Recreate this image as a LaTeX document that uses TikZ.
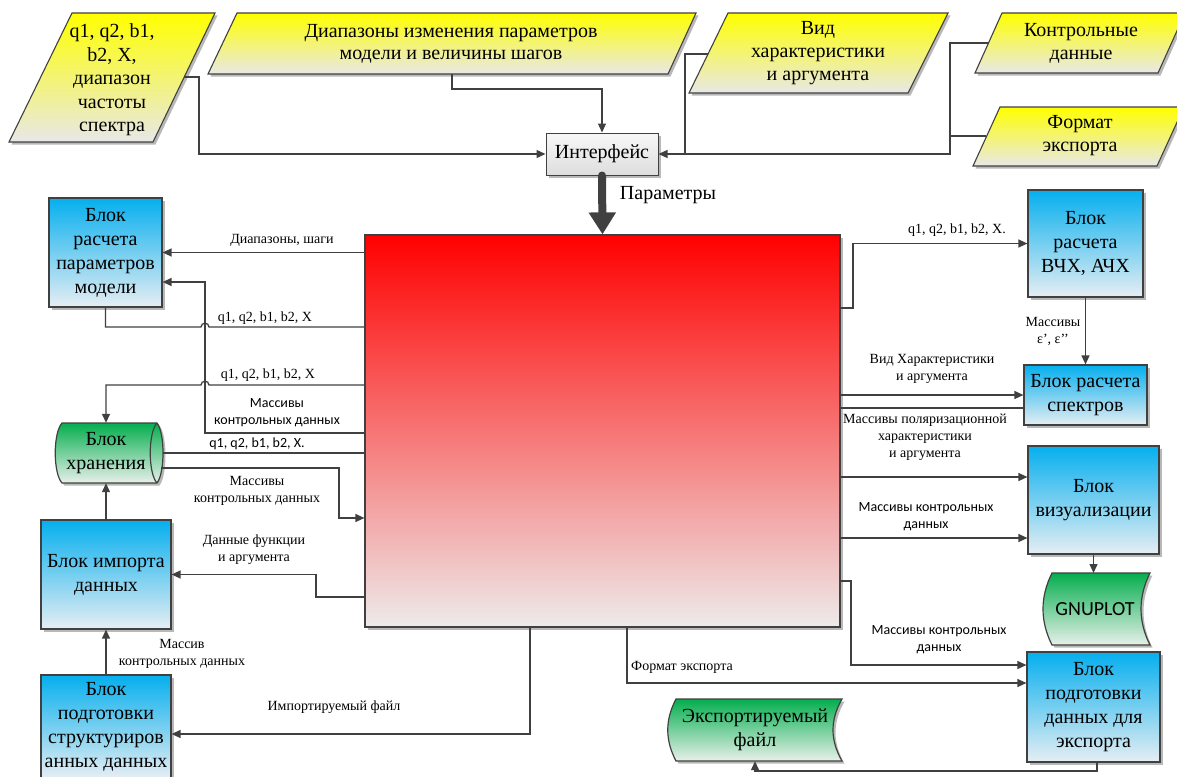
\documentclass[tikz,border=0pt]{standalone}
\usepackage{fontspec}
\setmainfont{Liberation Serif}
\newfontfamily\sansf{Carlito}
\usetikzlibrary{arrows.meta,shadows,calc}
\definecolor{ln}{HTML}{404040}
\definecolor{yel}{HTML}{FFFF00}
\definecolor{yelb}{HTML}{E8E8E8}
\definecolor{blt}{HTML}{05AFEE}
\definecolor{blb}{HTML}{E6EEF3}
\definecolor{grt}{HTML}{05AE4E}
\definecolor{grb}{HTML}{E8F0EA}
\definecolor{rdt}{HTML}{FF0000}
\definecolor{rdb}{HTML}{EEEAEA}
\begin{document}
\begin{tikzpicture}[x=1pt,y=-1pt,
  shad/.style={drop shadow={shadow xshift=2.5pt, shadow yshift=-2.5pt, fill=black!28, opacity=1}},
  conn/.style={draw=ln, line width=1.3pt},
  arr/.style={conn, -{Triangle[length=9pt,width=8pt]}},
  big/.style={font=\fontsize{20}{24}\selectfont, align=center, inner sep=0pt},
  lbl/.style={font=\fontsize{14}{17}\selectfont, align=center, inner sep=0pt},
  slbl/.style={font=\sansf\fontsize{14}{17}\selectfont, align=center, inner sep=0pt},
  blk/.style={draw=ln, line width=1.2pt, top color=blt, bottom color=blb, big, shad},
  para/.style={draw=ln, line width=1.1pt, top color=yel, bottom color=yelb, shad},
  grn/.style={draw=ln, line width=1.2pt, top color=grt, bottom color=grb, shad}
]
\useasboundingbox (0,0) rectangle (1177,776);

% ---- top input parallelograms
\path[para] (72,13) -- (215,13) -- (153,142) -- (9,142) -- cycle;
\node[big, font=\fontsize{20}{23.5}\selectfont] (p1) at (112,80) {q1, q2, b1,\\b2, X,\\диапазон\\частоты\\спектра};
\path[para] (237,13) -- (696,13) -- (668,74) -- (208,74) -- cycle;
\node[big, font=\fontsize{20}{22}\selectfont] (p2) at (451,44) {Диапазоны изменения параметров\\модели и величины шагов};
\path[para] (728,13) -- (948,13) -- (908,93) -- (689,93) -- cycle;
\node[big, font=\fontsize{20}{23}\selectfont] (p3) at (818,53) {Вид\\характеристики\\и аргумента};
\path[para] (1002,13) -- (1185,13) -- (1158,73) -- (975,73) -- cycle;
\node[big, font=\fontsize{20}{23}\selectfont] (p4) at (1081,43) {Контрольные\\данные};
\path[para] (1000,107) -- (1184,107) -- (1157,166) -- (973,166) -- cycle;
\node[big, font=\fontsize{20}{23}\selectfont] (p5) at (1080,136) {Формат\\экспорта};

\coordinate (p1r) at (184,77);
\coordinate (p2b) at (452,74);
\coordinate (p3l) at (708,54);
\coordinate (p4l) at (988,43);
\coordinate (p5l) at (986,136);

% ---- interface and main block
\node[draw=ln, line width=1pt, top color=gray!6, bottom color=gray!26, minimum width=112pt, minimum height=42pt, big, shad] (iface) at (602,154) {Интерфейс};
\node[draw=ln, line width=1.2pt, top color=rdt, bottom color=rdb, minimum width=475pt, minimum height=392pt, inner sep=0pt, shad] (main) at (602.5,431) {};

% ---- blue blocks
\node[blk, minimum width=113pt, minimum height=109pt] (bpar) at (105.5,252.5) {Блок\\расчета\\параметров\\модели};
\node[blk, minimum width=115pt, minimum height=107pt] (bvch) at (1085.5,243.5) {Блок\\расчета\\ВЧХ, АЧХ};
\node[blk, minimum width=123pt, minimum height=60pt] (bspec) at (1085.5,395) {Блок расчета\\спектров};
\node[blk, minimum width=131pt, minimum height=108pt] (bvis) at (1093.5,500) {Блок\\визуализации};
\node[blk, minimum width=133pt, minimum height=110pt] (bexp) at (1093.5,707) {Блок\\подготовки\\данных для\\экспорта};
\node[blk, minimum width=130pt, minimum height=109pt] (bimp) at (106,574.5) {Блок импорта\\данных};
\node[blk, minimum width=130pt, minimum height=103pt] (bprep) at (106,726.5) {Блок\\подготовки\\структуриров\\анных данных};

% ---- green storage shapes
\path[grn] (62,423) -- (157,423) .. controls (165,433) and (165,473) .. (157,483) -- (62,483) .. controls (53,473) and (53,433) .. (62,423) -- cycle;
\draw[ln, line width=1.2pt] (157,423) .. controls (148,433) and (148,473) .. (157,483);
\node[big, minimum width=114pt, minimum height=60pt] (stor) at (106,453) {Блок\\хранения};
\coordinate (storr) at (161,468);

\path[grn] (1052,573) -- (1150,573) .. controls (1138,597) and (1138,621) .. (1150,645) -- (1052,645) .. controls (1040,621) and (1040,597) .. (1052,573) -- cycle;
\node[font=\sansf\fontsize{20}{24}\selectfont, inner sep=0pt, minimum width=100pt, minimum height=72pt] (gnu) at (1095,609) {GNUPLOT};

\path[grn] (676,699) -- (842,699) .. controls (830,720) and (830,740) .. (842,761) -- (676,761) .. controls (665,740) and (665,720) .. (676,699) -- cycle;
\node[big, minimum width=160pt, minimum height=62pt] (efile) at (755,730) {Экспортируемый\\файл};

% ---- top connectors
\draw[arr] (p1r) -- (199,77) |- (iface.west);
\draw[arr] (p2b) -- (452,89) -| (iface.north);
\draw[conn] (p3l) -- (685,54) -- (685,154);
\draw[arr] (p4l) -- (950,43) |- (iface.east);
\draw[conn] (p5l) -- (950,136);
\draw[draw=ln, line width=8pt, line cap=round, -{Triangle[length=22pt,width=26pt]}] (iface.south) -- (main.north);
\node[font=\fontsize{20}{24}\selectfont, inner sep=0pt] (lpar) at (668,195) {Параметры};

% ---- left connectors
\draw[arr] (main.west |- bpar.east) -- (bpar.east);
\draw[arr] (main.west |- 0,433) -| (205,282) -- (bpar.east |- 0,282);
\draw[conn] (bpar.south) |- (201,327) .. controls (201,322) and (209,322) .. (209,327) -- (main.west |- 0,327);
\draw[arr] (main.west |- 0,385) -- (209,385) .. controls (209,380) and (201,380) .. (201,385) -| (stor.north);
\draw[conn] (stor.east) -- (main.west |- stor.east);
\draw[arr] (storr) -- (339,468) |- (main.west |- 0,518);
\draw[arr] (main.west |- 0,597) -- (316,597) |- (bimp.east);
\draw[arr] (bimp.north) -- (stor.south);
\draw[arr] (bprep.north) -- (bimp.south);
\draw[arr] (main.south -| 530,0) |- (bprep.east |- 0,734);

% ---- right connectors
\draw[arr] (main.east |- 0,308) -- (853,308) |- (bvch.west);
\draw[arr] (bvch.south) -- (bvch.south |- bspec.north);
\draw[arr] (main.east |- bspec.west) -- (bspec.west);
\draw[conn] (bspec.west |- 0,408) -- (main.east |- 0,408);
\draw[arr] (main.east |- 0,477) -- (bvis.west |- 0,477);
\draw[arr] (main.east |- 0,538) -- (bvis.west |- 0,538);
\draw[arr] (bvis.south) -- (bvis.south |- 0,573);
\draw[arr] (main.east |- 0,581) -- (851,581) |- (bexp.west |- 0,665);
\draw[arr] (main.south -| 627,0) |- (bexp.west |- 0,683);
\draw[arr] (bexp.south -| 1097,0) -- (1097,771) -| (efile.south);

% ---- labels
\node[lbl] (l1) at (282,240) {Диапазоны, шаги};
\node[lbl] (l2) at (265,318) {q1, q2, b1, b2, X};
\node[lbl] (l3) at (268,375) {q1, q2, b1, b2, X};
\node[slbl] (l4) at (277,413) {Массивы\\контрольных данных};
\node[slbl] (l5) at (257,444) {q1, q2, b1, b2, X.};
\node[lbl] (l6) at (257,491) {Массивы\\контрольных данных};
\node[lbl] (l7) at (254,550) {Данные функции\\и аргумента};
\node[lbl] (l8) at (182,654) {Массив\\контрольных данных};
\node[lbl] (l9) at (334,707) {Импортируемый файл};
\node[lbl] (l10) at (682,667) {Формат экспорта};
\node[lbl] (l11) at (957,230) {q1, q2, b1, b2, X.};
\node[lbl] (l12) at (1053,331) {Массивы\\ε’, ε’’};
\node[lbl] (l13) at (932,369) {Вид Характеристики\\и аргумента};
\node[lbl] (l14) at (925,437) {Массивы поляризационной\\характеристики\\и аргумента};
\node[slbl] (l15) at (926,517) {Массивы контрольных\\данных};
\node[slbl] (l16) at (939,640) {Массивы контрольных\\данных};
\end{tikzpicture}
\end{document}
